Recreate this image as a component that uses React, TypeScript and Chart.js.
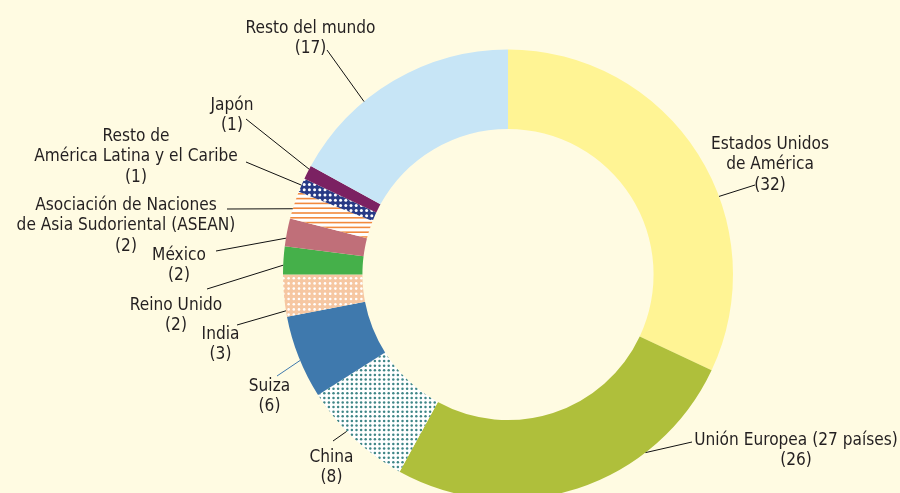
import { useEffect, useRef } from "react";
import { Chart, registerables } from "chart.js";

Chart.register(...registerables);

// ---------- data ----------
const categories: string[][] = [
  ["Estados Unidos", "de América"],
  ["Unión Europea (27 países)"],
  ["China"],
  ["Suiza"],
  ["India"],
  ["Reino Unido"],
  ["México"],
  ["Asociación de Naciones", "de Asia Sudoriental (ASEAN)"],
  ["Resto de", "América Latina y el Caribe"],
  ["Japón"],
  ["Resto del mundo"],
];
const values = [32, 26, 8, 6, 3, 2, 2, 2, 1, 1, 17];

// ---------- styles ----------
const BG = "#FFFBE2";
const TEXT = "#231F20";

type Fill =
  | { kind: "solid"; color: string }
  | { kind: "dots"; bg: string; dot: string; cell: number; r: number }
  | { kind: "hlines"; bg: string; line: string; cell: number };

const fills: Fill[] = [
  { kind: "solid", color: "#FFF494" },
  { kind: "solid", color: "#AFBF3B" },
  { kind: "dots", bg: "#FFFFFF", dot: "#3F8687", cell: 4.6, r: 1.25 },
  { kind: "solid", color: "#3F79AD" },
  { kind: "dots", bg: "#F6C7A2", dot: "#FFFFFF", cell: 5.2, r: 1.3 },
  { kind: "solid", color: "#45B04A" },
  { kind: "solid", color: "#C06F79" },
  { kind: "hlines", bg: "#FFFFFF", line: "#F28A3E", cell: 4.8 },
  { kind: "dots", bg: "#283A86", dot: "#FFFFFF", cell: 5.2, r: 1.5 },
  { kind: "solid", color: "#7B2162" },
  { kind: "solid", color: "#C7E5F6" },
];

// label placement (text centre x, first baseline y, leader end point, attach fraction in slice)
const labelLayout = [
  { frac: 0.605, tx: 770, ty: 149, lx: 755, ly: 185, color: "#111" },
  { frac: 0.29, tx: 796, ty: 445, lx: 692, ly: 442, color: "#111" },
  { frac: 0.59, tx: 331.5, ty: 462, lx: 333, ly: 441, color: "#111" },
  { frac: 0.46, tx: 269.5, ty: 391, lx: 277, ly: 376, color: "#3F79AD" },
  { frac: 0.14, tx: 220.5, ty: 339, lx: 237, ly: 325, color: "#111" },
  { frac: 0.33, tx: 176, ty: 310, lx: 207, ly: 289, color: "#111" },
  { frac: 0.29, tx: 179, ty: 260, lx: 216, ly: 251, color: "#111" },
  { frac: 0.36, tx: 126, ty: 210, lx: 227, ly: 209, color: "#111" },
  { frac: 0.5, tx: 136, ty: 141, lx: 246, ly: 162, color: "#111" },
  { frac: 0.75, tx: 232, ty: 110, lx: 246, ly: 119, color: "#111" },
  { frac: 0.35, tx: 310.5, ty: 32.5, lx: 327, ly: 50, color: "#111" },
];

const FONT = '18px "Liberation Sans Narrow", "DejaVu Sans Condensed", sans-serif';
const TARGET_W = 130; // width of "Resto del mundo" in reference
const LINE_H = 20.3;

function makeFill(f: Fill): string | CanvasPattern {
  if (f.kind === "solid") return f.color;
  const scale = 10;
  const size = Math.round(f.cell * scale);
  const c = document.createElement("canvas");
  c.width = size;
  c.height = size;
  const g = c.getContext("2d")!;
  g.fillStyle = f.bg;
  g.fillRect(0, 0, size, size);
  if (f.kind === "dots") {
    g.fillStyle = f.dot;
    // draw a grid of dots at small cell using a sub-canvas of 1 cell
    const cc = document.createElement("canvas");
    const n = 10;
    const cs = f.cell * n;
    cc.width = Math.round(cs);
    cc.height = Math.round(cs);
    const gg = cc.getContext("2d")!;
    gg.fillStyle = f.bg;
    gg.fillRect(0, 0, cc.width, cc.height);
    gg.fillStyle = f.dot;
    for (let i = 0; i < n; i++) {
      for (let j = 0; j < n; j++) {
        gg.beginPath();
        gg.arc(i * f.cell + f.cell / 2, j * f.cell + f.cell / 2, f.r, 0, Math.PI * 2);
        gg.fill();
      }
    }
    return g.createPattern(cc, "repeat")!;
  } else {
    const cc = document.createElement("canvas");
    const n = 10;
    cc.width = 10;
    cc.height = Math.round(f.cell * n);
    const gg = cc.getContext("2d")!;
    gg.fillStyle = f.bg;
    gg.fillRect(0, 0, cc.width, cc.height);
    gg.fillStyle = f.line;
    for (let j = 0; j < n; j++) {
      gg.fillRect(0, j * f.cell + 1, cc.width, 1.6);
    }
    return g.createPattern(cc, "repeat")!;
  }
}

const labelPlugin = {
  id: "leaderLabels",
  afterDraw(chart: any) {
    const ctx: CanvasRenderingContext2D = chart.ctx;
    const meta = chart.getDatasetMeta(0);
    ctx.save();
    ctx.font = FONT;
    const w = ctx.measureText("Resto del mundo").width;
    const sx = w > 0 ? TARGET_W / w : 1;
    meta.data.forEach((el: any, i: number) => {
      const L = labelLayout[i];
      const p = el.getProps(["x", "y", "startAngle", "endAngle", "outerRadius"], true);
      const a = p.startAngle + L.frac * (p.endAngle - p.startAngle);
      const ax = p.x + Math.cos(a) * p.outerRadius;
      const ay = p.y + Math.sin(a) * p.outerRadius;
      ctx.strokeStyle = L.color;
      ctx.lineWidth = 1;
      ctx.beginPath();
      ctx.moveTo(L.lx, L.ly);
      ctx.lineTo(ax, ay);
      ctx.stroke();

      const lines = [...categories[i], `(${values[i]})`];
      ctx.fillStyle = TEXT;
      ctx.textAlign = "center";
      ctx.textBaseline = "alphabetic";
      lines.forEach((t, k) => {
        ctx.save();
        ctx.translate(L.tx, L.ty + k * LINE_H);
        ctx.scale(sx, 1);
        ctx.fillText(t, 0, 0);
        ctx.restore();
      });
    });
    ctx.restore();
  },
};

export default function App() {
  const ref = useRef<HTMLCanvasElement>(null);
  useEffect(() => {
    document.body.style.margin = "0";
    document.body.style.overflow = "hidden";
    document.body.style.background = BG;
    const chart = new Chart(ref.current!, {
      type: "doughnut",
      data: {
        labels: categories.map((c) => c.join(" ")),
        datasets: [
          {
            data: values,
            backgroundColor: fills.map(makeFill),
            borderWidth: 0,
            hoverBorderWidth: 0,
            offset: 0,
            hoverOffset: 0,
          } as any,
        ],
      },
      options: {
        responsive: false,
        animation: false,
        events: [],
        cutout: "64.7%",
        layout: { padding: { top: 49.5, bottom: 0.5, left: 116, right: 0 } },
        plugins: {
          legend: { display: false },
          tooltip: { enabled: false },
        },
      },
      plugins: [labelPlugin],
    });
    return () => chart.destroy();
  }, []);
  return (
    <div style={{ width: 900, height: 493, overflow: "hidden", background: BG }}>
      <canvas ref={ref} width={900} height={500} style={{ display: "block" }} />
    </div>
  );
}
